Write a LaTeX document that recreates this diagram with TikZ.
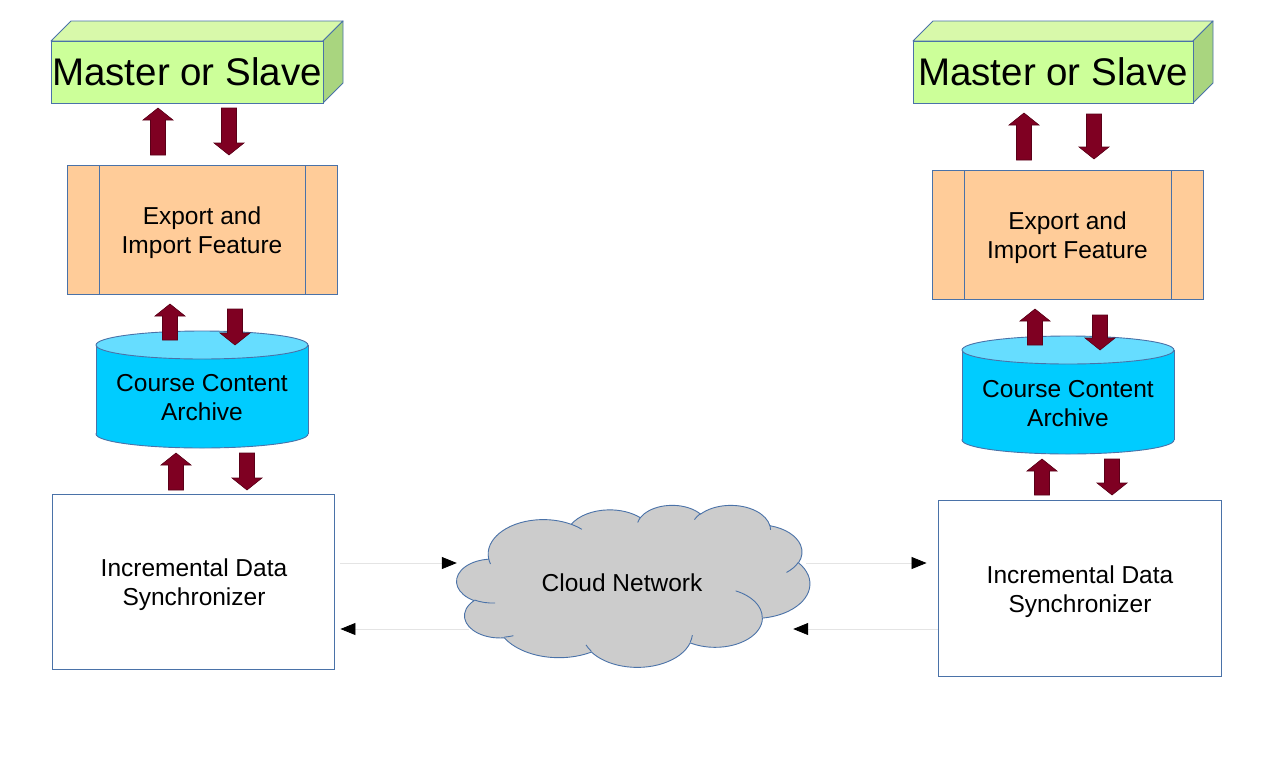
\documentclass[tikz,border=0pt]{standalone}
\usepackage{fontspec}
\setmainfont{Liberation Sans}
\usetikzlibrary{arrows.meta,calc}
\definecolor{edge}{HTML}{4A72A8}
\definecolor{greenF}{HTML}{CCFF99}
\definecolor{greenT}{HTML}{D8F9AA}
\definecolor{greenS}{HTML}{A9D57F}
\definecolor{orangeF}{HTML}{FFCC99}
\definecolor{cylBody}{HTML}{00CCFF}
\definecolor{cylTop}{HTML}{66DDFF}
\definecolor{cloudF}{HTML}{CCCCCC}
\definecolor{barrow}{HTML}{7F0022}
\definecolor{barrowE}{HTML}{5A0018}
\definecolor{connc}{HTML}{E4E4E4}
\newcommand\bup[3]{%
  \filldraw[barrowst] (#1-7.5,#3) -- (#1-7.5,#2+12) -- (#1-15,#2+12) -- (#1,#2) -- (#1+15,#2+12) -- (#1+7.5,#2+12) -- (#1+7.5,#3) -- cycle;}
\newcommand\bdown[3]{%
  \filldraw[barrowst] (#1-7.5,#2) -- (#1-7.5,#3-12) -- (#1-15,#3-12) -- (#1,#3) -- (#1+15,#3-12) -- (#1+7.5,#3-12) -- (#1+7.5,#2) -- cycle;}
\newcommand\greenbox[5]{% name, x1, y1, x2, y2
  \filldraw[fill=greenT,draw=edge,line width=0.9pt,line join=round] (#2,#3) -- (#2+20,#3-20) -- (#4+20,#3-20) -- (#4,#3) -- cycle;
  \filldraw[fill=greenS,draw=edge,line width=0.9pt,line join=round] (#4,#3) -- (#4+20,#3-20) -- (#4+20,#5-20) -- (#4,#5) -- cycle;
  \draw[fill=greenF,draw=edge,line width=0.9pt] (#2,#3) rectangle (#4,#5);
  \node[bigtext] (#1) at ({(#2+#4)/2},{(#3+#5)/2}) {Master or Slave};}
\newcommand\cylinderdraw[4]{% cx, rx, ytop, ybottom
  \filldraw[fill=cylBody,draw=edge,line width=0.9pt] (#1,#4) ellipse [x radius=#2, y radius=14];
  \fill[cylBody] (#1-#2,#3) rectangle (#1+#2,#4);
  \draw[edge,line width=0.9pt] (#1-#2,#3) -- (#1-#2,#4) (#1+#2,#3) -- (#1+#2,#4);
  \filldraw[fill=cylTop,draw=edge,line width=0.9pt] (#1,#3) ellipse [x radius=#2, y radius=14];}
% elliptic arc helper: visual start angle / sweep -> parametric start / delta
\newcommand\ooprep[5]{%
  \pgfmathsetmacro\oos{atan2((#2)*sin(#4),(#3)*cos(#4))}%
  \pgfmathsetmacro\ooe{atan2((#2)*sin((#4)+(#5)),(#3)*cos((#4)+(#5)))}%
  \pgfmathsetmacro\ood{mod(\ooe-\oos+720,360)}%
  \expandafter\xdef\csname oo#1s\endcsname{\oos}%
  \expandafter\xdef\csname oo#1d\endcsname{\ood}}
\begin{document}
\begin{tikzpicture}[x=1pt,y=-1pt,
  barrowst/.style={fill=barrow,draw=barrowE,line width=0.6pt,line join=miter},
  bigtext/.style={inner sep=0pt,font=\fontsize{38.5}{44}\selectfont},
  midtext/.style={inner sep=0pt,align=center,font=\fontsize{24.5}{29}\selectfont},
  orangebox/.style={draw=edge,fill=orangeF,line width=0.9pt,minimum width=270pt,minimum height=129pt,inner sep=0pt},
  syncbox/.style={draw=edge,fill=white,line width=0.9pt,minimum width=282pt,minimum height=175pt,inner sep=0pt},
  cloudst/.style={draw=edge,fill=cloudF,line width=0.9pt},
  cloudin/.style={draw=edge,line width=0.9pt},
  conn/.style={draw=connc,line width=0.8pt,-{Triangle[length=15pt,width=12pt,fill=black,color=black]}}
]
\useasboundingbox[fill=white] (0,0) rectangle (1280,772);

% ---- green boxes
\greenbox{msL}{51}{41}{323}{103}
\greenbox{msR}{913}{41}{1193}{103}

% ---- orange boxes
\node[orangebox] (expL) at (202,229.5) {};
\draw[edge,line width=0.9pt] (99,165) -- (99,294) (305,165) -- (305,294);
\node[midtext] (expLtxt) at ([yshift=-3pt]expL.center) {Export and\\Import Feature};
\node[orangebox,minimum width=271pt] (expR) at (1067.5,234.5) {};
\draw[edge,line width=0.9pt] (964,170) -- (964,299) (1171,170) -- (1171,299);
\node[midtext] (expRtxt) at ([yshift=-3.5pt]expR.center) {Export and\\Import Feature};

% ---- cylinders
\cylinderdraw{202}{106}{345}{434}
\node[midtext] (archL) at (202,398) {Course Content\\Archive};
\cylinderdraw{1068}{106}{350}{440}
\node[midtext] (archR) at (1068,404) {Course Content\\Archive};

% ---- synchronizers
\node[syncbox] (syncL) at (193,581.5) {};
\node[midtext] (syncLtxt) at (194,585) {Incremental Data\\Synchronizer};
\node[syncbox,minimum width=283pt,minimum height=176pt] (syncR) at (1079.5,588) {};
\node[midtext] (syncRtxt) at (1080,592) {Incremental Data\\Synchronizer};

% ---- cloud anchor node
\node[minimum width=353pt,minimum height=162pt,inner sep=0pt] (cloud) at (633.5,586) {};

% ---- connectors (behind the cloud)
\coordinate (yTop) at (0,563);
\coordinate (yBot) at (0,629);
\draw[conn,shorten <=6pt] (syncL.east |- yTop) -- (cloud.west |- yTop);
\draw[conn,shorten <=-12pt,shorten >=6pt] (cloud.west |- yBot) -- (syncL.east |- yBot);
\draw[conn,shorten <=-4pt,shorten >=11pt] (cloud.east |- yTop) -- (syncR.west |- yTop);
\draw[conn,shorten >=-17pt] (syncR.west |- yBot) -- (cloud.east |- yBot);

% ---- cloud shape
\ooprep{A}{67.53}{91.90}{-190.4875}{123.7805}
\ooprep{B}{53.33}{72.67}{-144.1024}{89.9452}
\ooprep{C}{43.65}{59.45}{-145.8079}{99.7230}
\ooprep{D}{48.57}{65.95}{-130.9861}{117.2417}
\ooprep{E}{53.33}{72.73}{-78.7089}{109.0269}
\ooprep{F}{67.75}{92.20}{-46.2673}{130.2690}
\ooprep{G}{57.85}{78.67}{0.6250}{114.0333}
\ooprep{H}{67.52}{92.15}{22.4516}{115.1726}
\ooprep{I}{77.20}{105.43}{66.2426}{75.7110}
\ooprep{J}{43.60}{59.18}{-274.9421}{146.7356}
\ooprep{K}{43.45}{59.45}{-246.8285}{152.5189}
\ooprep{a}{43.45}{59.45}{86.7420}{26.4295}
\ooprep{b}{43.60}{59.18}{73.6105}{11.4475}
\ooprep{c}{67.52}{92.15}{137.6242}{14.0811}
\ooprep{d}{67.52}{92.15}{6.4533}{15.9984}
\ooprep{e}{57.85}{78.67}{-70.2924}{70.9174}
\ooprep{f}{53.33}{72.73}{30.3180}{27.7515}
\ooprep{g}{48.57}{65.95}{-13.7443}{14.8589}
\ooprep{h}{48.57}{65.95}{-149.1815}{18.1954}
\ooprep{i}{43.65}{59.45}{-163.4943}{17.6864}
\ooprep{j}{67.53}{91.90}{-66.7070}{12.3194}
\ooprep{k}{67.53}{91.90}{157.6544}{11.8582}
\begin{scope}[shift={(cloud.north west)},x={(0.81713pt,0pt)},y={(0pt,-0.375pt)}]
\filldraw[cloudst] (39,143.7)
  arc[x radius=67.53,y radius=91.90,start angle=\ooAs,delta angle=\ooAd]
  arc[x radius=53.33,y radius=72.67,start angle=\ooBs,delta angle=\ooBd]
  arc[x radius=43.65,y radius=59.45,start angle=\ooCs,delta angle=\ooCd]
  arc[x radius=48.57,y radius=65.95,start angle=\ooDs,delta angle=\ooDd]
  arc[x radius=53.33,y radius=72.73,start angle=\ooEs,delta angle=\ooEd]
  arc[x radius=67.75,y radius=92.20,start angle=\ooFs,delta angle=\ooFd]
  arc[x radius=57.85,y radius=78.67,start angle=\ooGs,delta angle=\ooGd]
  arc[x radius=67.52,y radius=92.15,start angle=\ooHs,delta angle=\ooHd]
  arc[x radius=77.20,y radius=105.43,start angle=\ooIs,delta angle=\ooId]
  arc[x radius=43.60,y radius=59.18,start angle=\ooJs,delta angle=\ooJd]
  arc[x radius=43.45,y radius=59.45,start angle=\ooKs,delta angle=\ooKd]
  -- cycle;
\draw[cloudin]
  (46.93,261.77) arc[x radius=43.45,y radius=59.45,start angle=\ooas,delta angle=\ooad]
  (69.28,348.99) arc[x radius=43.60,y radius=59.18,start angle=\oobs,delta angle=\oobd]
  (164.78,390.90) arc[x radius=67.52,y radius=92.15,start angle=\oocs,delta angle=\oocd]
  (288.27,347.51) arc[x radius=67.52,y radius=92.15,start angle=\oods,delta angle=\oodd]
  (341.29,229.54) arc[x radius=57.85,y radius=78.67,start angle=\ooes,delta angle=\ooed]
  (417.98,153.54) arc[x radius=53.33,y radius=72.73,start angle=\oofs,delta angle=\oofd]
  (383.24,54.26) arc[x radius=48.57,y radius=65.95,start angle=\oogs,delta angle=\oogd]
  (290.78,39.52) arc[x radius=48.57,y radius=65.95,start angle=\oohs,delta angle=\oohd]
  (221.41,47.20) arc[x radius=43.65,y radius=59.45,start angle=\oois,delta angle=\ooid]
  (140.00,51.92) arc[x radius=67.53,y radius=91.90,start angle=\oojs,delta angle=\oojd]
  (41.27,157.89) arc[x radius=67.53,y radius=91.90,start angle=\ooks,delta angle=\ookd];
\end{scope}
\node[midtext] (cloudtxt) at (622,583) {Cloud Network};

% ---- block arrows
\bup{158}{108}{155}  \bdown{229}{108}{155}
\bup{170}{304}{340}  \bdown{235}{309}{345}
\bup{176}{453}{490}  \bdown{247}{453}{490}
\bup{1024}{113}{160} \bdown{1094}{114}{159}
\bup{1035}{309}{345} \bdown{1100}{315}{350}
\bup{1042}{459}{495} \bdown{1112}{459}{495}
\end{tikzpicture}
\end{document}
